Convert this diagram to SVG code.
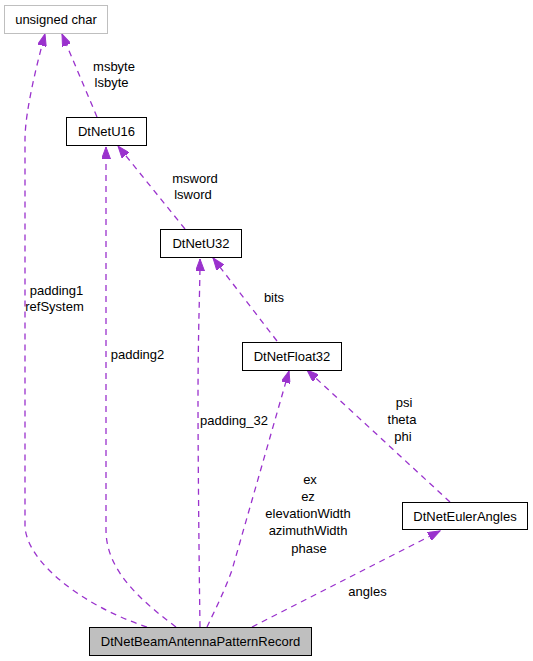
<svg xmlns="http://www.w3.org/2000/svg" width="533" height="661" viewBox="0 0 533 661">
<style>
text{font-family:"Liberation Sans",Arial,sans-serif;font-size:13px;fill:#000}
.nt{text-anchor:middle}
.lb{text-anchor:middle}
.box{fill:#fff;stroke:#000;stroke-width:1}
.edge{fill:none;stroke:#9a32cd;stroke-width:1.3;stroke-dasharray:6,5}
</style>
<defs>
<marker id="ah" markerUnits="userSpaceOnUse" markerWidth="13" markerHeight="9" refX="12" refY="4.5" orient="auto" viewBox="0 0 13 9">
<path d="M0,0 L12,4.5 L0,9 z" fill="#9a32cd" stroke="#9a32cd" stroke-width="1"/>
</marker>
</defs>
<rect width="533" height="661" fill="#fff"/>
<g id="connectors">
<path class="edge" marker-end="url(#ah)" d="M147,627 C80,605 25,560 25,525 L25,140 C25,110 38,60 45,34"/>
<path class="edge" marker-end="url(#ah)" d="M176,627 C140,600 106,570 106,530 L106,147"/>
<path class="edge" marker-end="url(#ah)" d="M200,627 C199,560 198,450 198,400 C198,330 200,290 200,259"/>
<path class="edge" marker-end="url(#ah)" d="M97,117 L62,34"/>
<path class="edge" marker-end="url(#ah)" d="M185,229 L118,146"/>
<path class="edge" marker-end="url(#ah)" d="M277,341 L213,258"/>
<path class="edge" marker-end="url(#ah)" d="M450,502 L307,370"/>
<path class="edge" marker-end="url(#ah)" d="M207,627 C215,610 225,590 232,570 L289,371"/>
<path class="edge" marker-end="url(#ah)" d="M252,627 L440,531"/>
<text class="lb" x="114" y="71">msbyte</text>
<text class="lb" x="111.5" y="87">lsbyte</text>
<text class="lb" x="56.5" y="295">padding1</text>
<text class="lb" x="54.5" y="311">refSystem</text>
<text class="lb" x="137.5" y="359">padding2</text>
<text class="lb" x="195" y="183">msword</text>
<text class="lb" x="193" y="199">lsword</text>
<text class="lb" x="274" y="302">bits</text>
<text class="lb" x="234" y="425">padding_32</text>
<text class="lb" x="404" y="407">psi</text>
<text class="lb" x="402" y="424">theta</text>
<text class="lb" x="403" y="441">phi</text>
<text class="lb" x="310" y="484">ex</text>
<text class="lb" x="308" y="501">ez</text>
<text class="lb" x="308" y="518">elevationWidth</text>
<text class="lb" x="308" y="535">azimuthWidth</text>
<text class="lb" x="309" y="553">phase</text>
<text class="lb" x="367.5" y="596">angles</text>
</g>
<g id="node-unsigned-char">
<rect x="4.5" y="5.5" width="103" height="28" fill="#fff" stroke="#bfbfbf"/>
<text class="nt" x="56" y="24">unsigned char</text>
</g>
<g id="node-DtNetU16">
<rect class="box" x="66.5" y="117.5" width="80" height="28"/>
<text class="nt" x="106.5" y="136">DtNetU16</text>
</g>
<g id="node-DtNetU32">
<rect class="box" x="160.5" y="229.5" width="81" height="28"/>
<text class="nt" x="201" y="248">DtNetU32</text>
</g>
<g id="node-DtNetFloat32">
<rect class="box" x="242.5" y="342.5" width="99" height="28"/>
<text class="nt" x="292" y="361">DtNetFloat32</text>
</g>
<g id="node-DtNetEulerAngles">
<rect class="box" x="402.5" y="502.5" width="125" height="27"/>
<text class="nt" x="465" y="521">DtNetEulerAngles</text>
</g>
<g id="node-DtNetBeamAntennaPatternRecord">
<rect x="89.5" y="627.5" width="222" height="28" fill="#bfbfbf" stroke="#000"/>
<text class="nt" x="200.5" y="646">DtNetBeamAntennaPatternRecord</text>
</g>
</svg>
